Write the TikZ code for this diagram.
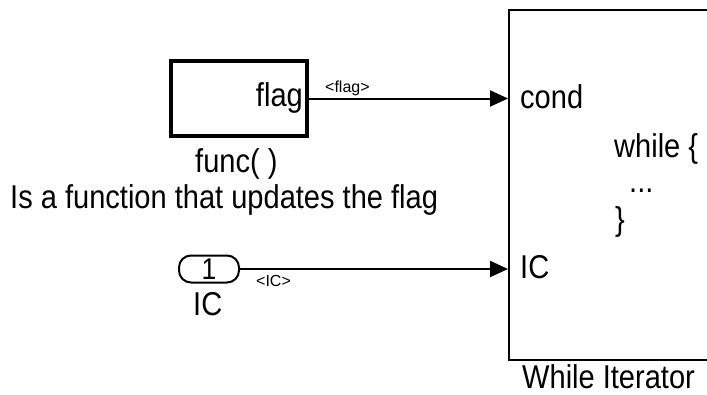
\documentclass[tikz,border=0pt]{standalone}
\usepackage{fontspec}
\setmainfont{Liberation Sans}
\newfontfamily\slimfont{Liberation Sans}[FakeStretch=0.88]
\usetikzlibrary{positioning,arrows.meta}
\tikzset{
  blk/.style={draw=black,line width=2pt,fill=white,inner sep=0pt},
  fblk/.style={blk,line width=4pt,minimum width=136pt,minimum height=75pt},
  inport/.style={draw=black,line width=2pt,rounded corners=12pt,minimum width=60pt,minimum height=27pt,inner sep=0pt,font=\slimfont\fontsize{30}{30}\selectfont},
  txt/.style={font=\slimfont\fontsize{33}{35}\selectfont,inner sep=0pt},
  sml/.style={font=\fontsize{16}{16}\selectfont,inner sep=0pt},
  sig/.style={-{Triangle[length=18pt,width=16pt]},line width=2pt},
}
\begin{document}
\begin{tikzpicture}[x=1pt,y=-1pt]
\path[use as bounding box,clip] (0,0) rectangle (707,394);
% blocks
\node[fblk] (func) at (239,98.5) {};
\node[blk,minimum width=206pt,minimum height=350pt] (wi) at (612,184.5) {};
\node[inport] (in1) at (209,269) {1};
% texts
\node[txt,anchor=base east] (flag) at (303,106) {flag};
\node[txt,anchor=base west] (fname) at (195,172) {func( )};
\node[txt,anchor=base west] (fdesc) at (10,208) {Is a function that updates the flag};
\node[txt,anchor=base west] (icname) at (193,315) {IC};
\node[txt,anchor=base west] (cond) at (520,108) {cond};
\node[txt,anchor=base west] (icport) at (520,278) {IC};
\node[txt,anchor=base west] (wh) at (614,157) {while \{};
\node[txt,anchor=base west] (dots) at (629,192) {...};
\node[txt,anchor=base west] (wend) at (615,230) {\}};
\node[txt,anchor=base west,text depth=0pt] (wname) at (522,388) {While Iterator};
% signals
\coordinate (pcond) at (wi.west |- func.east);
\coordinate (pic) at (wi.west |- in1.east);
\draw[sig] (func.east) -- (pcond);
\draw[sig] (in1.east) -- (pic);
\node[sml,anchor=base west] (lflag) at (325,92) {<flag>};
\node[sml,anchor=base west] (lic) at (256,286) {<IC>};
\end{tikzpicture}
\end{document}
